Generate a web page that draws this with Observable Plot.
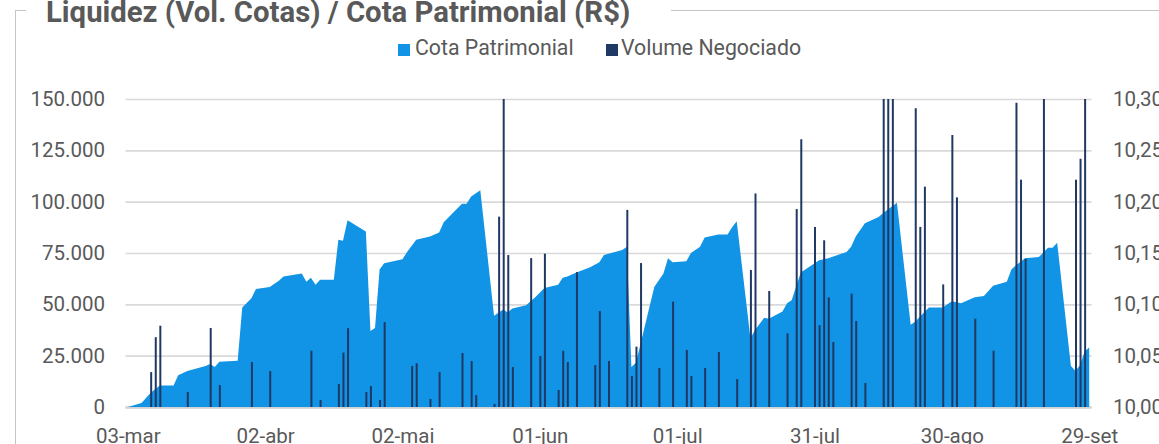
<!DOCTYPE html>
<html>
<head>
<meta charset="utf-8">
<script src="https://cdn.jsdelivr.net/npm/d3@7"></script>
<script src="https://cdn.jsdelivr.net/npm/@observablehq/plot@0.6"></script>
<style>
  body { margin: 0; background: #fff; font-family: Roboto, sans-serif; }
  #wrap { position: relative; width: 1159px; height: 444px; overflow: hidden; background: #fff; }
  #frame { position: absolute; left: 15px; top: 10px; width: 1200px; height: 500px;
           border-left: 1.5px solid #c4c4c4; border-top: 1.5px solid #c4c4c4; }
  #title { position: absolute; left: 26px; top: -2px; width: 625px; padding-left: 20px; background: #fff;
           font-weight: bold; font-size: 29.3px; line-height: 28px; color: #595959; white-space: nowrap; }
  .sw { position: absolute; top: 44px; width: 12px; height: 12px; }
  .lt { position: absolute; top: 37px; font-size: 21.3px; line-height: 21px; color: #595959; white-space: nowrap; }
  #chart { position: absolute; left: 0; top: 70px; }
</style>
</head>
<body>
<div id="wrap">
  <div id="frame"></div>
  <div id="title">Liquidez (Vol. Cotas) / Cota Patrimonial (R$)</div>
  <div class="sw" style="left:398px;background:#1193e6"></div>
  <div class="lt" style="left:415px">Cota Patrimonial</div>
  <div class="sw" style="left:606px;background:#1f3864"></div>
  <div class="lt" style="left:621px">Volume Negociado</div>
  <div id="chart"></div>
</div>
<script>
// Cota Patrimonial (R$) — right axis
const cotaDates = [
  "2021-03-03","2021-03-06","2021-03-08","2021-03-10","2021-03-13","2021-03-14","2021-03-16","2021-03-20","2021-03-21","2021-03-22","2021-03-23","2021-03-27","2021-03-28","2021-03-30","2021-03-31",
  "2021-04-03","2021-04-05","2021-04-06","2021-04-10","2021-04-11","2021-04-12","2021-04-13","2021-04-14","2021-04-17","2021-04-18","2021-04-19","2021-04-20","2021-04-24","2021-04-25","2021-04-26","2021-04-27","2021-04-28",
  "2021-05-01","2021-05-02","2021-05-03","2021-05-05","2021-05-08","2021-05-10","2021-05-11","2021-05-15","2021-05-16","2021-05-17","2021-05-19","2021-05-22","2021-05-24","2021-05-25","2021-05-26","2021-05-29","2021-05-30","2021-05-31",
  "2021-06-02","2021-06-05","2021-06-06","2021-06-07","2021-06-09","2021-06-12","2021-06-14","2021-06-15","2021-06-19","2021-06-20","2021-06-21","2021-06-22","2021-06-26","2021-06-28","2021-06-29","2021-06-30",
  "2021-07-03","2021-07-04","2021-07-06","2021-07-07","2021-07-10","2021-07-12","2021-07-13","2021-07-14","2021-07-17","2021-07-18","2021-07-20","2021-07-21","2021-07-24","2021-07-25","2021-07-26","2021-07-28",
  "2021-08-01","2021-08-03","2021-08-07","2021-08-08","2021-08-09","2021-08-11","2021-08-14","2021-08-15","2021-08-18","2021-08-21","2021-08-22","2021-08-23","2021-08-25","2021-08-28","2021-08-30",
  "2021-09-01","2021-09-04","2021-09-06","2021-09-08","2021-09-11","2021-09-12","2021-09-13","2021-09-15","2021-09-18","2021-09-20","2021-09-21","2021-09-22","2021-09-25","2021-09-26","2021-09-27","2021-09-28","2021-09-29"
];
const cotaValues = [
  10.000,10.004,10.014,10.021,10.021,10.031,10.035,10.040,10.042,10.039,10.044,10.045,10.097,10.106,10.115,
  10.117,10.123,10.127,10.130,10.122,10.126,10.119,10.124,10.124,10.163,10.162,10.182,10.171,10.074,10.077,10.134,10.140,
  10.143,10.144,10.151,10.163,10.166,10.170,10.180,10.198,10.198,10.205,10.211,10.089,10.095,10.092,10.096,10.099,10.103,10.107,
  10.116,10.119,10.126,10.127,10.131,10.136,10.141,10.148,10.153,10.156,10.039,10.043,10.117,10.130,10.145,10.141,
  10.142,10.150,10.156,10.165,10.168,10.168,10.175,10.181,10.067,10.075,10.087,10.086,10.093,10.101,10.104,10.131,
  10.143,10.145,10.151,10.156,10.166,10.179,10.185,10.189,10.199,10.080,10.083,10.088,10.097,10.097,10.103,
  10.101,10.107,10.108,10.118,10.122,10.134,10.138,10.145,10.146,10.155,10.155,10.160,10.040,10.035,10.041,10.054,10.058
];

// Volume Negociado (cotas) — left axis
const volDates = [
  "2021-03-08","2021-03-09","2021-03-10","2021-03-16","2021-03-21","2021-03-23","2021-03-30",
  "2021-04-03","2021-04-12","2021-04-14","2021-04-18","2021-04-19","2021-04-20","2021-04-24","2021-04-25","2021-04-27","2021-04-28",
  "2021-05-04","2021-05-05","2021-05-08","2021-05-10","2021-05-15","2021-05-17","2021-05-18","2021-05-22","2021-05-23","2021-05-24","2021-05-25","2021-05-26","2021-05-30",
  "2021-06-01","2021-06-02","2021-06-05","2021-06-06","2021-06-07","2021-06-09","2021-06-13","2021-06-14","2021-06-16","2021-06-20","2021-06-21","2021-06-22","2021-06-23","2021-06-27","2021-06-30",
  "2021-07-03","2021-07-04","2021-07-07","2021-07-10","2021-07-14","2021-07-17","2021-07-18","2021-07-21","2021-07-25","2021-07-27","2021-07-28","2021-07-31",
  "2021-08-01","2021-08-02","2021-08-03","2021-08-04","2021-08-08","2021-08-09","2021-08-11","2021-08-15","2021-08-16","2021-08-17","2021-08-22","2021-08-23","2021-08-24","2021-08-28","2021-08-30","2021-08-31",
  "2021-09-04","2021-09-08","2021-09-13","2021-09-14","2021-09-15","2021-09-19","2021-09-26","2021-09-27","2021-09-28"
];
const volValues = [
  17000,34000,39600,7300,38500,10700,21900,
  17500,27400,3400,11200,26500,38400,7300,10200,3400,41400,
  20000,21300,3900,17000,26300,22400,5800,1500,92700,150000,74000,19500,72500,
  24800,74700,8300,27400,21900,65700,20400,46700,22400,96000,15100,29400,70100,19000,51300,
  27800,15100,19000,26800,13600,66700,104000,56500,35900,96400,130400,87700,
  39900,81200,53400,31700,55200,41900,11700,150000,150000,150000,145500,87700,107300,59700,132500,102100,
  43000,27400,148200,110700,72200,150000,110700,120900,150000
];

// Axis ticks
const yTicks = [0, 25000, 50000, 75000, 100000, 125000, 150000];
const xTickDates = ["2021-03-03","2021-04-02","2021-05-02","2021-06-01","2021-07-01","2021-07-31","2021-08-30","2021-09-29"];
const monthNames = ["jan","fev","mar","abr","mai","jun","jul","ago","set","out","nov","dez"];

const parse = d3.utcParse("%Y-%m-%d");
const cota = cotaDates.map((d, i) => ({date: parse(d), v: cotaValues[i]}));
const vol = volDates.map((d, i) => ({date: parse(d), v: volValues[i]}));
const xTicks = xTickDates.map(parse);

const cotaMin = 10.0, cotaMax = 10.3, volMax = 150000;
const toLeft = v => (v - cotaMin) / (cotaMax - cotaMin) * volMax;
const fmtDate = d => String(d.getUTCDate()).padStart(2, "0") + "-" + monthNames[d.getUTCMonth()];
const fmtLeft = d => d3.format(",")(d).replace(/,/g, ".");
const fmtRight = d => (cotaMin + d / volMax * (cotaMax - cotaMin)).toFixed(2).replace(".", ",");

const chart = Plot.plot({
  width: 1159,
  height: 374,
  marginTop: 29,
  marginBottom: 37,
  marginLeft: 125.5,
  marginRight: 67.5,
  style: {fontFamily: "Roboto", fontSize: "20.5px", color: "#595959", background: "transparent", overflow: "visible"},
  x: {type: "utc", domain: [new Date(Date.UTC(2021, 2, 2, 12)), new Date(Date.UTC(2021, 8, 29, 12))]},
  y: {domain: [0, volMax]},
  marks: [
    Plot.gridY(yTicks, {stroke: "#d9d9d9", strokeOpacity: 1, strokeWidth: 1.7}),
    Plot.ruleY([0], {stroke: "#d2d2d2", strokeWidth: 2.5}),
    Plot.areaY(cota, {x: "date", y: d => toLeft(d.v), fill: "#1193e6", curve: "linear"}),
    Plot.ruleX(vol, {x: "date", y1: 0, y2: "v", stroke: "#1f3864", strokeWidth: 2}),
    Plot.axisY(yTicks, {anchor: "left", tickSize: 0, tickPadding: 21, tickFormat: fmtLeft, label: null}),
    Plot.axisY(yTicks, {anchor: "right", tickSize: 0, tickPadding: 21, tickFormat: fmtRight, label: null}),
    Plot.axisX(xTicks, {tickSize: 0, tickPadding: 21, tickFormat: fmtDate, label: null})
  ]
});
document.getElementById("chart").appendChild(chart);
</script>
</body>
</html>
